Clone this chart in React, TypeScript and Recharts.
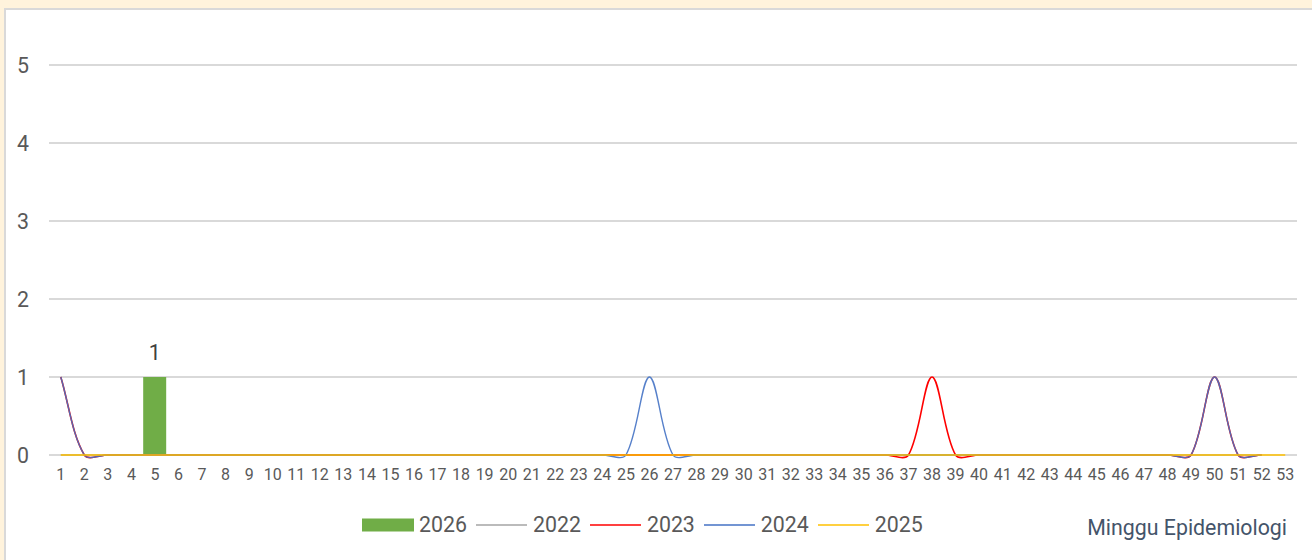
import React from 'react';
import { ComposedChart, Bar, Line, XAxis, YAxis, CartesianGrid, Legend, LabelList } from 'recharts';

const weeks = ['1','2','3','4','5','6','7','8','9','10','11','12','13','14','15','16','17','18','19','20','21','22','23','24','25','26','27','28','29','30','31','32','33','34','35','36','37','38','39','40','41','42','43','44','45','46','47','48','49','50','51','52','53'];

const yTicks = [0, 1, 2, 3, 4, 5];

const cases2026 = [null, null, null, null, 1];

const cases2022 = [0,0,0,0,0,0,0,0,0,0, 0,0,0,0,0,0,0,0,0,0, 0,0,0,0,0,0,0,0,0,0, 0,0,0,0,0,0,0,0,0,0, 0,0,0,0,0,0,0,0,0,0, 0,0];

const cases2023 = [1,0,0,0,0,0,0,0,0,0, 0,0,0,0,0,0,0,0,0,0, 0,0,0,0,0,0,0,0,0,0, 0,0,0,0,0,0,0,1,0,0, 0,0,0,0,0,0,0,0,0,1, 0,0];

const cases2024 = [1,0,0,0,0,0,0,0,0,0, 0,0,0,0,0,0,0,0,0,0, 0,0,0,0,0,1,0,0,0,0, 0,0,0,0,0,0,0,0,0,0, 0,0,0,0,0,0,0,0,0,1, 0,0];

const cases2025 = [0,0,0,0,0,0,0,0,0,0, 0,0,0,0,0,0,0,0,0,0, 0,0,0,0,0,0,0,0,0,0, 0,0,0,0,0,0,0,0,0,0, 0,0,0,0,0,0,0,0,0,0, 0,0,0];

const seriesInfo = [
  { key: 'y2026', name: '2026', color: '#70ad47', kind: 'bar' },
  { key: 'y2022', name: '2022', color: '#a5a5a5', kind: 'line' },
  { key: 'y2023', name: '2023', color: '#ff0000', kind: 'line' },
  { key: 'y2024', name: '2024', color: '#4472c4', kind: 'line' },
  { key: 'y2025', name: '2025', color: '#ffc000', kind: 'line' },
];

const data = weeks.map((w, i) => ({
  week: w,
  y2026: cases2026[i] ?? null,
  y2022: cases2022[i] ?? null,
  y2023: cases2023[i] ?? null,
  y2024: cases2024[i] ?? null,
  y2025: cases2025[i] ?? null,
}));

// Excel-like smoothed line: Bezier with tangents scaled by neighbouring segment lengths (pixel space)
function smoothCurve(context: any) {
  let pts: number[][] = [];
  const dist = (a: number[], b: number[]) => Math.hypot(b[0] - a[0], b[1] - a[1]);
  return {
    areaStart() {},
    areaEnd() {},
    lineStart() { pts = []; },
    point(x: number, y: number) { pts.push([+x, +y]); },
    lineEnd() {
      const n = pts.length;
      if (n === 0) return;
      context.moveTo(pts[0][0], pts[0][1]);
      if (n === 1) { context.lineTo(pts[0][0], pts[0][1]); return; }
      const s = 1 / 3;
      const outCtl: number[][] = [];
      const inCtl: number[][] = [];
      for (let i = 0; i < n; i++) {
        const prev = pts[i - 1] || pts[i];
        const next = pts[i + 1] || pts[i];
        const dPrev = dist(prev, pts[i]);
        const dNext = dist(pts[i], next);
        const tot = dPrev + dNext || 1;
        const tx = next[0] - prev[0];
        const ty = next[1] - prev[1];
        outCtl[i] = [pts[i][0] + tx * s * dNext / tot, pts[i][1] + ty * s * dNext / tot];
        inCtl[i] = [pts[i][0] - tx * s * dPrev / tot, pts[i][1] - ty * s * dPrev / tot];
      }
      for (let i = 0; i < n - 1; i++) {
        context.bezierCurveTo(outCtl[i][0], outCtl[i][1], inCtl[i + 1][0], inCtl[i + 1][1], pts[i + 1][0], pts[i + 1][1]);
      }
    },
  };
}

const FONT = 'Roboto, "Noto Sans", sans-serif';
const TEXT = '#595959';

function LegendContent() {
  return (
    <div style={{ display: 'flex', alignItems: 'center', height: 26, paddingLeft: 362, fontFamily: FONT, fontSize: 21.33, color: TEXT }}>
      {seriesInfo.map((s, i) => (
        <div key={s.key} style={{ display: 'flex', alignItems: 'center', marginRight: i < seriesInfo.length - 1 ? 9 : 0 }}>
          <svg width={52} height={14} style={{ marginRight: 5, display: 'block' }}>
            {s.kind === 'bar' ? (
              <rect x={0} y={0.5} width={52} height={13} fill={s.color} />
            ) : (
              <line x1={0} y1={7} x2={51} y2={7} stroke={s.color} strokeWidth={1.5} />
            )}
          </svg>
          <span style={{ lineHeight: '26px' }}>{s.name}</span>
        </div>
      ))}
    </div>
  );
}

export default function App() {
  return (
    <div style={{ position: 'fixed', left: 0, top: 0, width: 1312, height: 560, overflow: 'hidden', background: '#fff3dc', fontFamily: FONT }}>
      <div style={{ position: 'absolute', left: 4, top: 8, width: 1400, height: 620, background: '#ffffff', border: '2px solid #d9d9d9' }} />
      <div style={{ position: 'absolute', left: 0, top: 0 }}>
        <ComposedChart width={1312} height={560} data={data} margin={{ top: 65, right: 15, bottom: 75, left: 0 }} barCategoryGap={0}>
          <CartesianGrid vertical={false} stroke="#d9d9d9" strokeWidth={2} />
          <XAxis dataKey="week" interval={0} tickLine={false} axisLine={false} tickSize={0} tickMargin={14} height={30}
            tick={{ fontSize: 16, fill: TEXT, fontFamily: FONT }} />
          <YAxis domain={[0, 5]} ticks={yTicks} width={49} tickLine={false} axisLine={false} tickSize={0} tickMargin={20}
            tick={{ fontSize: 21.33, fill: TEXT, fontFamily: FONT }} />
          <Legend layout="horizontal" verticalAlign="middle" align="center" content={<LegendContent />}
            wrapperStyle={{ top: 512, left: 0, width: 1312, height: 26 }} />
          <Bar dataKey="y2026" name="2026" fill="#70ad47" barSize={23} isAnimationActive={false}>
            <LabelList dataKey="y2026" position="top" offset={17} fill="#404040" fontSize={21.33} fontFamily={FONT} />
          </Bar>
          <Line dataKey="y2022" name="2022" stroke="#a5a5a5" strokeWidth={1.5} type={smoothCurve as any} dot={false} activeDot={false} isAnimationActive={false} />
          <Line dataKey="y2023" name="2023" stroke="#ff0000" strokeWidth={1.6} type={smoothCurve as any} dot={false} activeDot={false} isAnimationActive={false} />
          <Line dataKey="y2024" name="2024" stroke="#4472c4" strokeWidth={1.4} strokeOpacity={0.9} type={smoothCurve as any} dot={false} activeDot={false} isAnimationActive={false} />
          <Line dataKey="y2025" name="2025" stroke="#ffc000" strokeWidth={1.5} type={smoothCurve as any} dot={false} activeDot={false} isAnimationActive={false} />
        </ComposedChart>
      </div>
      <div style={{ position: 'absolute', right: 25, top: 515, fontSize: 21.33, color: '#44546a', fontFamily: FONT, lineHeight: '26px' }}>
        Minggu Epidemiologi
      </div>
    </div>
  );
}
